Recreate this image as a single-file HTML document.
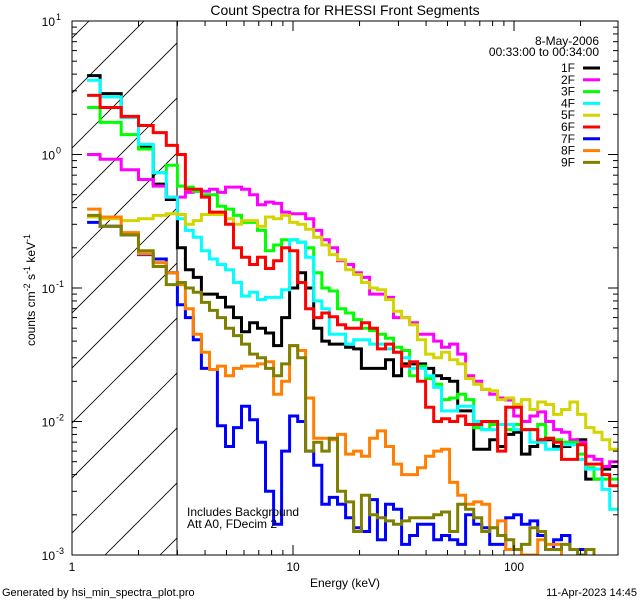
<!DOCTYPE html>
<html><head><meta charset="utf-8"><style>
body{margin:0;background:#fff;}
svg{display:block;font-family:"Liberation Sans",sans-serif;}
</style></head><body>
<svg id="chart" width="640" height="600" xmlns="http://www.w3.org/2000/svg">
<rect width="640" height="600" fill="#fff"/>
<text x="345" y="15" font-size="14" text-anchor="middle">Count Spectra for RHESSI Front Segments</text>
<defs><clipPath id="plotclip"><rect x="72" y="21" width="546" height="534"/></clipPath>
<clipPath id="hatchclip"><rect x="72" y="21" width="105" height="534"/></clipPath></defs>
<g id="hatch" clip-path="url(#hatchclip)"></g>
<line x1="177" y1="21" x2="177" y2="555" stroke="#000" stroke-width="1"/>
<g id="series" clip-path="url(#plotclip)"></g>
<rect x="72" y="21" width="546" height="534" fill="none" stroke="#000" stroke-width="1"/>
<g id="axes"></g>
<text x="345" y="587" font-size="12" text-anchor="middle">Energy (keV)</text>
<text transform="translate(35,290) rotate(-90)" font-size="12" text-anchor="middle">counts cm<tspan dy="-5" font-size="9">-2</tspan><tspan dy="5"> s</tspan><tspan dy="-5" font-size="9">-1</tspan><tspan dy="5"> keV</tspan><tspan dy="-5" font-size="9">-1</tspan></text>
<text x="187" y="516" font-size="12">Includes Background</text>
<text x="187" y="528" font-size="12">Att A0, FDecim 2</text>
<text x="599" y="45" font-size="12" text-anchor="end">8-May-2006</text>
<text x="599" y="56" font-size="12" text-anchor="end">00:33:00 to 00:34:00</text>
<g id="legend"></g>
<text x="2" y="596" font-size="11">Generated by hsi_min_spectra_plot.pro</text>
<text x="637" y="596" font-size="11" text-anchor="end">11-Apr-2023 14:45</text>
</svg>
<script>
const edges=[1.17,1.34,1.67,2.0,2.33,2.67,3.0,3.26,3.54,3.85,4.19,4.55,4.95,5.38,5.85,6.36,6.91,7.51,8.17,8.88,9.65,10.5,11.4,12.4,13.5,14.6,15.9,17.3,18.8,20.4,22.2,24.1,26.2,28.5,31.0,33.7,36.6,39.8,43.3,47.0,51.1,55.6,60.4,65.7,71.4,77.6,84.3,91.7,99.7,108,118,128,139,151,164,179,194,211,230,250,271,295];
const seriesNames=["1F","2F","3F","4F","5F","6F","7F","8F","9F"];
const seriesColors=["#000000","#ff00ff","#00ff00","#00ffff","#d4d400","#ff0000","#0000ff","#ff8000","#808000"];
const s1F=[3.9,2.86,1.9,1.15,0.6,0.46, .2,.137,.12,.09,.09,.085,.072,.06,.047,.055,.05,.046,.037,.06,.1,.13,.1,.05,.04, .038,.038,.036,.035,.025,.025,.025,.029,.022,.027,.027,.027,.025,.022,.021,.02,.012,.012,.0062,.0062,.0073,.0065,.008,.0083,.0057,.0065,.0073,.0073,.0065,.0065,.007,.0073,.0037,.0037,.0044,.0046];
const s2F=[1.0,0.92,0.77,0.65,0.58,0.48, .48,.52,.53,.53,.55,.52,.57,.57,.55,.5,.42,.44,.43,.37,.36, .36,.33,.27,.23,.2,.16,.15,.13,.12,.09,.09,.085,.06,.06,.055,.045,.045,.04,.036,.038,.032,.022,.02,.0174,.016,.015,.0145,.011,.01,.011,.0118,.01,.0087,.0083,.0073,.007,.0055,.0052,.0046,.005];
const s3F=[2.25,1.74,1.41,1.1,0.73,0.83, .58,.57,.53,.5,.5,.41,.39,.35,.31,.31,.27,.19,.21,.23,.23,.22,.2,.13, .1,.095,.07,.065,.058,.05,.048,.045,.042,.036,.034,.022,.026,.021,.019,.0146,.015,.016,.0146,.009,.0087,.0095,.0095,.0087,.0095,.0087,.0087,.0095,.0075,.0073,.007,.007,.0057,.0045,.0037,.0037,.0037];
const s4F=[3.6,2.7,1.9,1.19,0.73,0.48, .33,.27,.24,.19,.165,.15,.137,.11,.087,.093,.082,.085,.085,.097,.23,.22,.17,.08,.07,.045,.045,.038,.041,.041,.038,.038,.035,.033,.03,.025,.025,.022,.018,.012,.012,.013,.013,.01,.0087,.0087,.0095,.0095,.0087,.0087,.007,.007,.0062,.0062,.0067,.0067,.0052,.0044,.0044,.0031,.0022];
const s5F=[0.34,0.33,0.32,0.33,0.35,0.36, .355,.30,.32,.355,.355,.355,.33,.30,.32,.32,.29,.34,.33,.35,.31, .30,.275,.24,.21,.178,.163,.137,.126,.11,.10,.097,.082,.067,.06,.053,.041,.032,.03,.033,.029,.027,.021,.019,.0174,.017,.0146,.015,.0134,.0146,.0123,.014,.0134,.0113,.0123,.014,.0113,.009,.0083,.0073,.0062];
const s6F=[2.77,2.25,1.93,1.65,1.46,1.17, 1.0,.55,.55,.48,.37,.37,.3,.2,.17,.15,.17,.14,.16,.2,.19,.11,.07,.06, .065,.061,.053,.05,.05,.055,.05,.035,.038,.033,.026,.028,.02,.0128,.01,.0105,.01,.011,.0095,.0095,.01,.01,.006,.0128,.0128,.0087,.0087,.0073,.0075,.007,.0052,.0052,.0067,.0048,.0048,.004,.0033];
const s7F=[0.31,0.29,0.25,0.178,0.165,0.13, .075,.06,.041,.025,.0245,.0093,.0065,.009,.013,.0103,.007,.003,.0017,.006,.011,.01,.006,.0047,.0024,.0027, .0024,.0019,.0016,.0015,.0026,.0013,.0024,.0022,.0012,.0014,.0017,.0017,.0013,.0014,.0013,.0012,.002,.0017,.0016,.0012,.0012,.0019,.002,.0017,.0018,.0014,.0011,.0013,.0014,.0011,.0011,.0008,.0008,.0008,.0008];
const s8F=[0.39,0.34,0.26,0.18,0.155,0.13, .106,.07,.045,.033,.0245,.026,.022,.025,.026,.026,.027,.028,.016,.02,.037,.034,.015,.0075,.0075, .0073,.008,.0057,.006,.0055,.0075,.0085,.0065,.0048,.004,.004,.0045,.0055,.006,.0062,.0035,.0028,.0024,.0025,.0024,.0016,.0018,.0011,.0011,.001,.001,.0013,.0012,.0012,.0009,.0008,.0008,.0008,.0008,.0008,.0008];
const s9F=[0.35,0.29,0.25,0.19,0.145,0.106, .11,.1,.093,.078,.068,.06,.05,.044,.038,.032,.03,.025,.022,.027,.037,.03,.006,.007,.006, .0075,.003,.0025,.0015,.0028,.002,.0019,.0018,.0017,.0018,.0019,.0019,.0019,.002,.0021,.0015,.0024,.0022,.0019,.0015,.0016,.0014,.0013,.0011,.0012,.0016,.0015,.0011,.0011,.0012,.0011,.001,.0011,.0008,.0008,.0008];
const xTickLabels=["1","10","100"];
const yTickExps=["-3","-2","-1","0","1"];

const NS="http://www.w3.org/2000/svg";
const X0=72,X1=618,Y0=555,Y1=21;
const xMinLog=0,xMaxLog=Math.log10(295)+0.0005;
function xs(e){return X0+(Math.log10(e)-xMinLog)/(2.4705-xMinLog)*(X1-X0);}
function ys(v){return Y0-(Math.log10(v)+3)/4*(Y0-Y1);}
function mk(tag,attrs,parent){const el=document.createElementNS(NS,tag);for(const k in attrs)el.setAttribute(k,attrs[k]);parent.appendChild(el);return el;}

// hatch
const hatch=document.getElementById('hatch');
for(let c=-600;c<200;c+=55){
  const ln=mk('line',{x1:c,y1:600,x2:c+600,y2:0,stroke:'#000','stroke-width':0.8},hatch);
  
  
}

// series
const allSeries=[s1F,s2F,s3F,s4F,s5F,s6F,s7F,s8F,s9F];
const sg=document.getElementById('series');
allSeries.forEach((vals,si)=>{
  let d='';
  for(let i=0;i<vals.length;i++){
    const xa=xs(edges[i]),xb=xs(edges[i+1]),y=ys(vals[i]);
    d+=(i===0?'M':'L')+xa.toFixed(1)+','+y.toFixed(1)+'L'+xb.toFixed(1)+','+y.toFixed(1);
  }
  const p=mk('path',{d:d,fill:'none',stroke:seriesColors[si],'stroke-width':3,'stroke-linejoin':'miter'},sg);
  
  
});

// axes ticks
const ax=document.getElementById('axes');
for(let dec=0;dec<=2;dec++){
  for(let m=1;m<=9;m++){
    const e=m*Math.pow(10,dec);if(e>295)break;
    const x=xs(e);const len=m===1?10:5;
    mk('line',{x1:x,y1:Y0,x2:x,y2:Y0-len,stroke:'#000'},ax);
    mk('line',{x1:x,y1:Y1,x2:x,y2:Y1+len,stroke:'#000'},ax);
  }
}
xTickLabels.forEach((t,i)=>{
  const tx=mk('text',{x:xs(Math.pow(10,i)),y:571,'font-size':12,'text-anchor':'middle'},ax);
  tx.textContent=t;
  
  
});
for(let dec=-3;dec<=0;dec++){
  for(let m=1;m<=9;m++){
    const v=m*Math.pow(10,dec);const y=ys(v);const len=m===1?10:5;
    mk('line',{x1:X0,y1:y,x2:X0+len,y2:y,stroke:'#000'},ax);
    mk('line',{x1:X1,y1:y,x2:X1-len,y2:y,stroke:'#000'},ax);
  }
}
yTickExps.forEach((t,i)=>{
  const y=ys(Math.pow(10,i-3));
  const tx=mk('text',{x:55,y:y+5,'font-size':12,'text-anchor':'end'},ax);
  tx.textContent='10';
  
  
  const sp=mk('text',{x:56,y:y-1,'font-size':9},ax);
  sp.textContent=t;
  
  
});

// legend
const lg=document.getElementById('legend');
seriesNames.forEach((n,i)=>{
  const y=68+i*11.8;
  const t=mk('text',{x:575,y:y+4,'font-size':12,'text-anchor':'end'},lg);
  t.textContent=n;
  
  
  const l=mk('line',{x1:583,y1:y,x2:600,y2:y,stroke:seriesColors[i],'stroke-width':3},lg);
  
  
});
</script>
</body></html>
